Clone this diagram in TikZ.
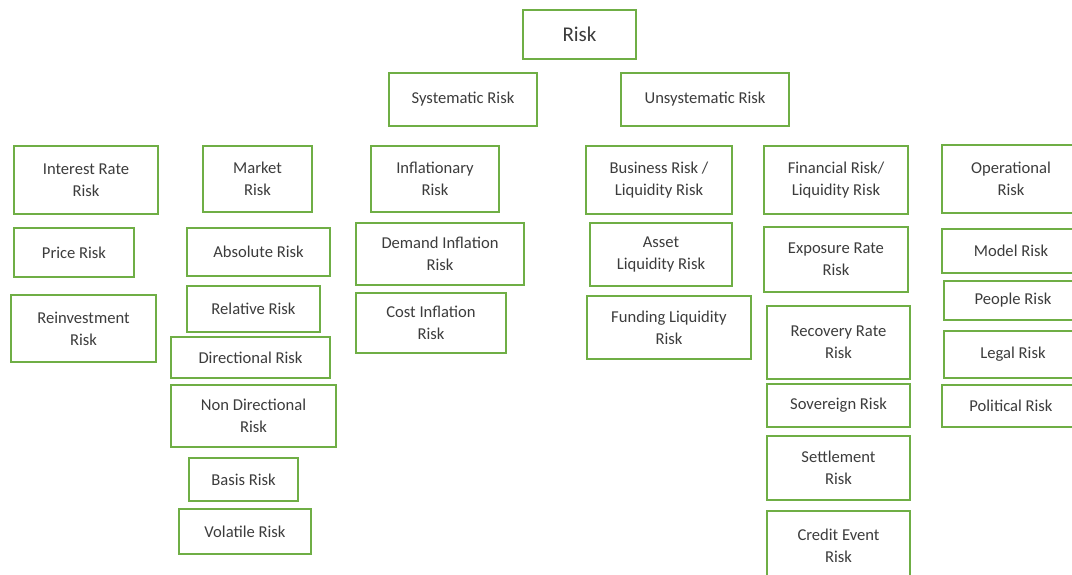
\documentclass[tikz,border=0pt]{standalone}
\usepackage{fontspec}
\setmainfont{Carlito}
\usepackage{xcolor}
\usepackage{tikz}
\usetikzlibrary{positioning}
\definecolor{riskGreen}{HTML}{6FAE45}
\definecolor{riskText}{HTML}{3C3C3C}

\begin{document}
\begin{tikzpicture}[
  x=0.5pt, y=-0.5pt,
  riskbox/.style={draw=riskGreen, line width=1.2pt, align=center, text=riskText,
    inner sep=0pt, font=\fontsize{8.3}{11}\selectfont},
]
\useasboundingbox (0,0) rectangle (1072,574);

% --- Root ---
\node[riskbox, font=\fontsize{10.5}{12}\selectfont,
  minimum width=56.5pt, minimum height=24.5pt] (risk) at (579.5,34.5) {Risk};

% --- All boxes: name / left / top / right / bottom / text ---
\foreach \nm/\xa/\ya/\xb/\yb/\txt in {
  sys/389/73/537/126/{Systematic Risk},
  unsys/621/73/789/126/{Unsystematic Risk},
  intrate/14/146/158/214/{Interest Rate\\Risk},
  market/203/146/312/212/{Market\\Risk},
  infl/371/146/499/212/{Inflationary\\Risk},
  business/586/146/732/214/{Business Risk /\\Liquidity Risk},
  financial/764/146/908/214/{Financial Risk/\\Liquidity Risk},
  oper/942/145/1080/213/{Operational\\Risk},
  price/14/228/134/277/{Price Risk},
  absolute/187/228/330/276/{Absolute Risk},
  demand/356/223/524/285/{Demand Inflation\\Risk},
  asset/590/223/732/286/{Asset\\Liquidity Risk},
  exposure/764/227/908/292/{Exposure Rate\\Risk},
  model/942/229/1080/273/{Model Risk},
  reinvest/11/295/156/362/{Reinvestment\\Risk},
  relative/187/286/320/332/{Relative Risk},
  cost/356/293/506/353/{Cost Inflation\\Risk},
  funding/587/296/751/359/{Funding Liquidity\\Risk},
  recovery/767/306/910/379/{Recovery Rate\\Risk},
  people/944/281/1082/320/{People Risk},
  directional/171/337/330/378/{Directional Risk},
  legal/944/331/1082/378/{Legal Risk},
  nondir/171/385/336/447/{Non Directional\\Risk},
  sovereign/767/384/910/427/{Sovereign Risk},
  political/942/385/1080/427/{Political Risk},
  settlement/767/436/910/500/{Settlement\\Risk},
  basis/189/458/298/501/{Basis Risk},
  volatile/179/509/311/554/{Volatile Risk},
  credit/767/511/910/580/{Credit Event\\Risk}} {
  \node[riskbox, minimum width={(\xb-\xa)*0.5pt}, minimum height={(\yb-\ya)*0.5pt}]
    (\nm) at ({(\xa+\xb)/2},{(\ya+\yb)/2}) {\txt};
}

\end{tikzpicture}
\end{document}
